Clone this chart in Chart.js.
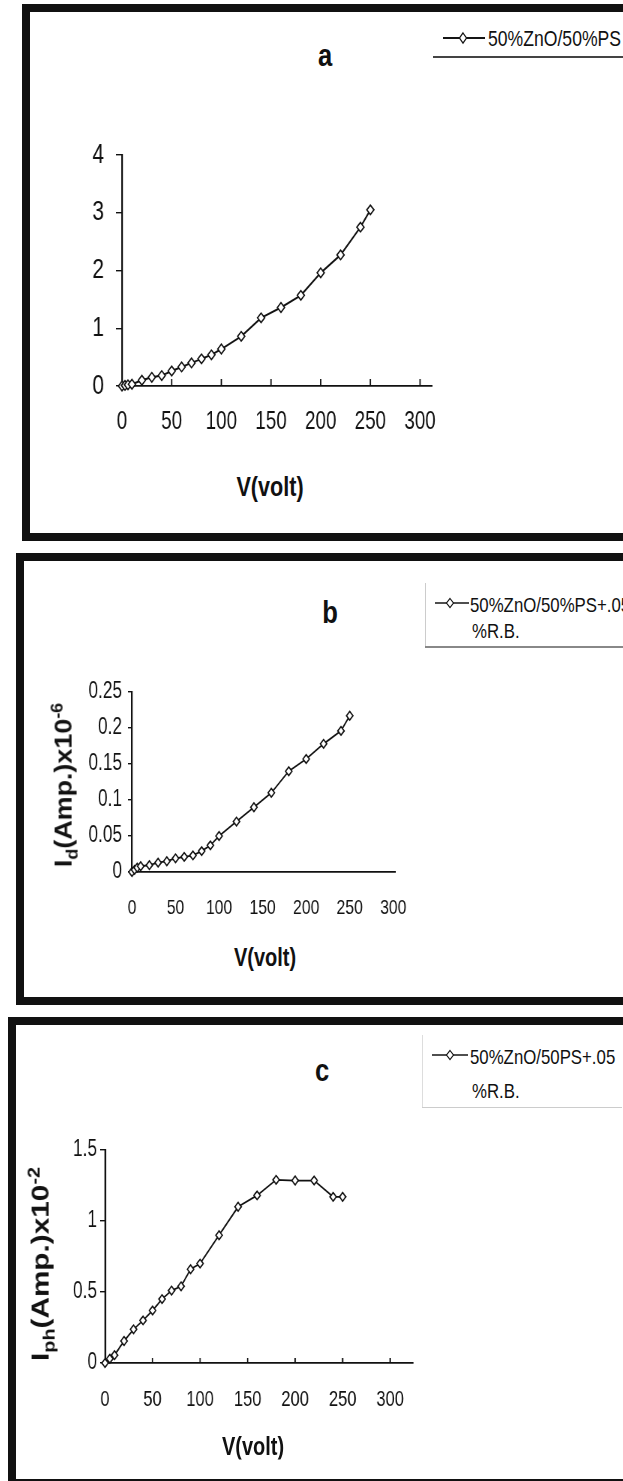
<!DOCTYPE html>
<html>
<head>
<meta charset="utf-8">
<script src="https://cdn.jsdelivr.net/npm/chart.js@4.4.1/dist/chart.umd.min.js"></script>
<style>
html,body{margin:0;padding:0;background:#fff;}
body{width:623px;height:1481px;position:relative;overflow:hidden;color:#111;
  font-family:"Liberation Sans",Arial,sans-serif;}
.panel{position:absolute;border:8px solid #111;box-sizing:border-box;background:#fff;}
.cv{position:absolute;}
.t{position:absolute;white-space:nowrap;transform:translate(-50%,-50%) scaleX(0.8);font-weight:bold;line-height:1;}
.yt{position:absolute;white-space:nowrap;font-weight:bold;font-size:24px;line-height:1;}
.yt sub,.yt sup{font-size:16px;}
.leg{position:absolute;white-space:nowrap;line-height:1;transform-origin:0 50%;transform:translateY(-50%) scaleX(0.8);}
.hl{position:absolute;}
</style>
</head>
<body>
<div class="panel" style="left:22px;top:4px;width:700px;height:537px;"></div>
<div class="panel" style="left:16px;top:553px;width:700px;height:452px;"></div>
<div class="panel" style="left:8px;top:1017px;width:700px;height:470px;"></div>

<!-- canvases are drawn 4/3 wider internally and shown condensed (narrow type like the scan) -->
<canvas id="ca" class="cv" width="616" height="340" style="left:20px;top:100px;width:462px;height:340px;"></canvas>
<canvas id="cb" class="cv" width="560" height="290" style="left:20px;top:640px;width:420px;height:290px;"></canvas>
<canvas id="cc" class="cv" width="560" height="330" style="left:10px;top:1110px;width:420px;height:330px;"></canvas>

<!-- panel titles -->
<div class="t" style="left:325px;top:55px;font-size:32px;">a</div>
<div class="t" style="left:330px;top:612px;font-size:32px;">b</div>
<div class="t" style="left:322px;top:1070px;font-size:32px;">c</div>

<!-- x axis titles -->
<div class="t" style="left:270px;top:487px;font-size:27px;">V(volt)</div>
<div class="t" style="left:265px;top:957px;font-size:25px;">V(volt)</div>
<div class="t" style="left:253px;top:1446px;font-size:25px;">V(volt)</div>

<!-- y axis titles -->
<div class="yt" style="left:65px;top:785px;transform:translate(-50%,-50%) rotate(-90deg) scaleX(1.12);">I<sub>d</sub>(Amp.)x10<sup>-6</sup></div>
<div class="yt" style="left:42px;top:1264px;transform:translate(-50%,-50%) rotate(-90deg) scaleX(1.24);">I<sub>ph</sub>(Amp.)x10<sup>-2</sup></div>

<!-- legends -->
<svg class="hl" style="left:440px;top:30px;" width="48" height="16"><line x1="3" y1="8" x2="45" y2="8" stroke="#151515" stroke-width="2"/><polygon points="23,3 26.5,8 23,13 19.5,8" fill="#fff" stroke="#151515" stroke-width="1.3"/></svg>
<div class="leg" style="left:488px;top:39px;font-size:22px;">50%ZnO/50%PS</div>
<div class="hl" style="left:433px;top:56px;width:200px;height:2px;background:#444;"></div>

<svg class="hl" style="left:433px;top:595px;" width="38" height="16"><line x1="2" y1="8" x2="36" y2="8" stroke="#151515" stroke-width="1.6"/><polygon points="17,3.5 20.5,8 17,12.5 13.5,8" fill="#fff" stroke="#151515" stroke-width="1.2"/></svg>
<div class="leg" style="left:470px;top:604px;font-size:21px;">50%ZnO/50%PS+.05</div>
<div class="leg" style="left:472px;top:630px;font-size:21px;">%R.B.</div>
<div class="hl" style="left:425px;top:583px;width:1px;height:64px;background:#ccc;"></div>
<div class="hl" style="left:425px;top:646px;width:200px;height:2px;background:#888;"></div>

<svg class="hl" style="left:430px;top:1047px;" width="40" height="16"><line x1="2" y1="8" x2="38" y2="8" stroke="#151515" stroke-width="1.6"/><polygon points="20,3.5 23.5,8 20,12.5 16.5,8" fill="#fff" stroke="#151515" stroke-width="1.2"/></svg>
<div class="leg" style="left:470px;top:1056px;font-size:21px;">50%ZnO/50PS+.05</div>
<div class="leg" style="left:472px;top:1090px;font-size:21px;">%R.B.</div>
<div class="hl" style="left:422px;top:1035px;width:1px;height:73px;background:#ddd;"></div>
<div class="hl" style="left:422px;top:1107px;width:200px;height:1px;background:#ccc;"></div>

<script>
// ---------- data ----------
const X_TICKS = [0, 50, 100, 150, 200, 250, 300];
const X_LABELS = ['0', '50', '100', '150', '200', '250', '300'];

// panel a : 50%ZnO/50%PS
const V_A = [0, 3, 6, 10, 20, 30, 40, 50, 60, 70, 80, 90, 100, 120, 140, 160, 180, 200, 220, 240, 250];
const I_A = [0, 0.01, 0.02, 0.03, 0.1, 0.15, 0.18, 0.26, 0.33, 0.4, 0.47, 0.54, 0.64, 0.86, 1.18, 1.36, 1.57, 1.96, 2.27, 2.75, 3.05];
const Y_TICKS_A = [0, 1, 2, 3, 4];
const Y_LABELS_A = ['0', '1', '2', '3', '4'];

// panel b : 50%ZnO/50%PS+.05 %R.B. (dark current)
const V_B = [0, 3, 6, 10, 20, 30, 40, 50, 60, 70, 80, 90, 100, 120, 140, 160, 180, 200, 220, 240, 250];
const I_B = [0, 0.003, 0.006, 0.008, 0.0095, 0.013, 0.015, 0.019, 0.021, 0.023, 0.029, 0.037, 0.05, 0.07, 0.09, 0.11, 0.14, 0.157, 0.178, 0.196, 0.217];
const Y_TICKS_B = [0, 0.05, 0.1, 0.15, 0.2, 0.25];
const Y_LABELS_B = ['0', '0.05', '0.1', '0.15', '0.2', '0.25'];

// panel c : 50%ZnO/50PS+.05 %R.B. (photocurrent)
const V_C = [0, 5, 10, 20, 30, 40, 50, 60, 70, 80, 90, 100, 120, 140, 160, 180, 200, 220, 240, 250];
const I_C = [0, 0.03, 0.055, 0.155, 0.237, 0.3, 0.37, 0.45, 0.51, 0.54, 0.66, 0.7, 0.9, 1.1, 1.18, 1.29, 1.285, 1.285, 1.17, 1.17];
const Y_TICKS_C = [0, 0.5, 1, 1.5];
const Y_LABELS_C = ['0', '0.5', '1', '1.5'];

const FONT = '"Liberation Sans",Arial,sans-serif';
const INK = '#111';

const upTicks = {
  id: 'upTicks',
  afterDatasetsDraw(chart, args, opts) {
    if (!opts || !opts.len) return;
    const xs = chart.scales.x, ys = chart.scales.y, ctx = chart.ctx;
    const yb = ys.getPixelForValue(ys.min);
    ctx.save();
    ctx.strokeStyle = INK; ctx.lineWidth = 1.8;
    xs.ticks.forEach(t => {
      if (t.value === 0) return;
      const px = xs.getPixelForValue(t.value);
      ctx.beginPath(); ctx.moveTo(px, yb); ctx.lineTo(px, yb - opts.len); ctx.stroke();
    });
    ctx.restore();
  }
};

function makeChart(id, xs, ys, yTicks, yLabels, c) {
  new Chart(document.getElementById(id), {
    type: 'line',
    data: {
      datasets: [{
        data: xs.map((v, i) => ({ x: v, y: ys[i] })),
        borderColor: INK, borderWidth: c.lw, tension: 0, clip: false,
        pointStyle: 'rectRot', pointRadius: c.r, pointBackgroundColor: '#fff',
        pointBorderColor: INK, pointBorderWidth: 1.6
      }]
    },
    options: {
      responsive: false, animation: false, events: [], devicePixelRatio: 1,
      layout: { padding: c.pad },
      plugins: { legend: { display: false }, tooltip: { enabled: false }, upTicks: { len: c.up } },
      scales: {
        x: {
          type: 'linear', min: 0, max: c.xmax,
          afterBuildTicks: s => { s.ticks = X_TICKS.map(v => ({ value: v })); },
          afterFit: s => { s.height = c.xh; },
          grid: { display: true, drawOnChartArea: false, drawTicks: false },
          border: { display: true, color: INK, width: 1.7 },
          ticks: { padding: c.xpad, color: INK, maxRotation: 0, autoSkip: false,
                   font: { family: FONT, size: c.xfs }, callback: (v, i) => X_LABELS[i] }
        },
        y: {
          type: 'linear', min: 0, max: yTicks[yTicks.length - 1],
          afterBuildTicks: s => { s.ticks = yTicks.map(v => ({ value: v })); },
          afterFit: s => { s.width = c.yw; },
          grid: { display: true, drawOnChartArea: false, drawTicks: true, tickLength: c.ytl, color: INK, lineWidth: 1.4 },
          border: { display: true, color: INK, width: 2.2 },
          ticks: { padding: c.ypad, color: INK, autoSkip: false,
                   font: { family: FONT, size: c.yfs }, callback: (v, i) => yLabels[i] }
        }
      }
    },
    plugins: [upTicks]
  });
}

makeChart('ca', V_A, I_A, Y_TICKS_A, Y_LABELS_A, {
  pad: { left: 56, right: 66.7, top: 55, bottom: 4 }, xmax: 312, xh: 50, yw: 80,
  xpad: 21, ypad: 16, ytl: 8, xfs: 25, yfs: 28, r: 4.8, lw: 2, up: 7
});
makeChart('cb', V_B, I_B, Y_TICKS_B, Y_LABELS_B, {
  pad: { left: 59.3, right: 60, top: 52, bottom: 13 }, xmax: 302, xh: 45, yw: 90,
  xpad: 24, ypad: 8, ytl: 5.3, xfs: 21, yfs: 23, r: 4.3, lw: 1.8, up: 0
});
makeChart('cc', V_C, I_C, Y_TICKS_C, Y_LABELS_C, {
  pad: { left: 40, right: 22.7, top: 40, bottom: 32 }, xmax: 324, xh: 45, yw: 86.7,
  xpad: 24, ypad: 4, ytl: 6.7, xfs: 22, yfs: 23, r: 4.3, lw: 1.8, up: 5
});
</script>
</body>
</html>
